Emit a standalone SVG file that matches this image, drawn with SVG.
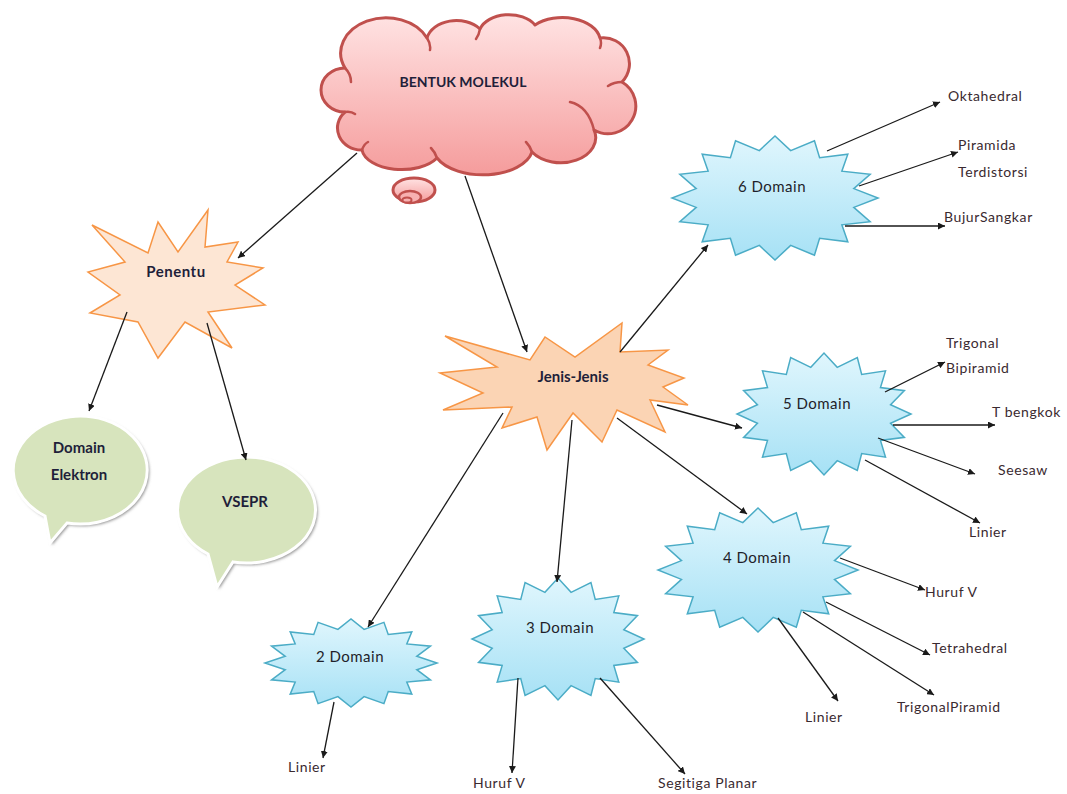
<svg xmlns="http://www.w3.org/2000/svg" xmlns:xlink="http://www.w3.org/1999/xlink" width="1067" height="794" viewBox="0 0 1067 794">
<style>
.conn line{stroke:#1a1a1a;stroke-width:1.3;marker-end:url(#arr)}
.bold{font-family:Lato,"Liberation Sans",sans-serif;font-weight:bold;fill:#1f1f3a;text-anchor:middle}
.dom{font-family:Lato,"Liberation Sans",sans-serif;font-size:15px;fill:#1f1f2a;text-anchor:middle;letter-spacing:0.5px}
.leaf{font-family:Lato,"Liberation Sans",sans-serif;font-size:14px;fill:#3a2a30;letter-spacing:0.6px}
.blue{fill:url(#gBlue);stroke:#4bacc6;stroke-width:1.5;stroke-linejoin:miter}
.orange{stroke:#f79646;stroke-width:1.5;stroke-linejoin:miter}
.bub{fill:#d7e4bd;stroke:#ffffff;stroke-width:3}
.bubsh{fill:#8f8f8f;filter:url(#blur)}
</style>
<defs>
<marker id="arr" viewBox="0 0 10 10" refX="10" refY="5" markerWidth="7" markerHeight="7" orient="auto" markerUnits="userSpaceOnUse">
<path d="M0,0 L10,5 L0,10 Z" fill="#1a1a1a"/>
</marker>
<linearGradient id="gBlue" x1="0" y1="0" x2="0" y2="1">
<stop offset="0" stop-color="#e0f6fd"/>
<stop offset="1" stop-color="#a6e1f5"/>
</linearGradient>
<linearGradient id="gPink" x1="0" y1="0" x2="0" y2="1">
<stop offset="0" stop-color="#ffe3e3"/>
<stop offset="1" stop-color="#f59c9c"/>
</linearGradient>
<filter id="blur" x="-20%" y="-20%" width="140%" height="140%">
<feGaussianBlur stdDeviation="1.6"/>
</filter>
<path id="star16" vector-effect="non-scaling-stroke" d="M100,0 L76.5,15.2 L92.4,38.3 L64.9,43.3 L70.7,70.7 L43.3,64.9 L38.3,92.4 L15.2,76.5 L0,100 L-15.2,76.5 L-38.3,92.4 L-43.3,64.9 L-70.7,70.7 L-64.9,43.3 L-92.4,38.3 L-76.5,15.2 L-100,0 L-76.5,-15.2 L-92.4,-38.3 L-64.9,-43.3 L-70.7,-70.7 L-43.3,-64.9 L-38.3,-92.4 L-15.2,-76.5 L0,-100 L15.2,-76.5 L38.3,-92.4 L43.3,-64.9 L70.7,-70.7 L64.9,-43.3 L92.4,-38.3 L76.5,-15.2 Z"/>
</defs>
<rect width="1067" height="794" fill="#ffffff"/>

<g id="node-bentuk">
<path d="M345,112 A24,22 0 0 1 345,68 A45,35 0 0 1 427,38 A30,22 0 0 1 480,29 A30,20 0 0 1 535,25 A38,24 0 0 1 600,38 A26,26 0 0 1 622,82 A26,26 0 0 1 594,130 A35,25 0 0 1 532,152 A50,28 0 0 1 437,158 A40,22 0 0 1 362,150 A24,22 0 0 1 345,112 Z" fill="url(#gPink)" stroke="#c0504d" stroke-width="3" stroke-linejoin="round"/>
<path d="M345,68 q6,6 6,14 M427,38 q4,6 3,12 M480,29 q-1,6 -4,10 M600,38 q2,5 0,10 M622,82 q-8,0 -14,4 M570,102 q18,4 24,28 M532,152 q-2,-6 -6,-10 M437,158 q-2,-6 -6,-10 M362,150 q2,-6 6,-8 M345,112 q6,-1 10,2" fill="none" stroke="#c0504d" stroke-width="2.5" stroke-linecap="round"/>
<ellipse cx="414" cy="190" rx="21" ry="12" fill="url(#gPink)" stroke="#c0504d" stroke-width="3"/>
<ellipse cx="410" cy="197" rx="11" ry="6" fill="#f7b0b0" stroke="#c0504d" stroke-width="2.5"/>
<ellipse cx="407" cy="200" rx="4.5" ry="2.5" fill="#f7b0b0" stroke="#c0504d" stroke-width="2"/>
<text class="bold" x="463" y="87" font-size="14">BENTUK MOLEKUL</text>
</g>

<g id="node-penentu">
<polygon class="orange" fill="#fde6d4" points="92,225 148,253 158,222 178,252 208,210 205,247 238,242 227,262 263,268 235,285 265,305 208,312 232,348 185,322 158,358 138,322 90,313 120,295 88,272 125,262"/>
<text class="bold" x="176" y="277" font-size="15" letter-spacing="0.5">Penentu</text>
</g>

<g id="node-jenis">
<polygon class="orange" fill="#fbd4b4" points="445,336 530,360 545,337 575,357 622,323 620,352 668,350 648,365 684,378 663,387 688,405 650,400 665,432 617,410 602,442 573,413 547,450 537,417 502,428 512,407 443,410 483,393 440,373 497,367"/>
<text class="bold" x="573" y="382" font-size="15">Jenis-Jenis</text>
</g>

<g id="node-domain-elektron">
<path class="bubsh" d="M69,525 A67,54 0 1 0 47,518 L52,545 Z"/>
<path class="bub" d="M67,523 A67,54 0 1 0 45,516 L50,543 Z"/>
<text class="bold" x="79" y="453" font-size="15">Domain</text>
<text class="bold" x="79" y="480" font-size="15">Elektron</text>
</g>

<g id="node-vsepr">
<path class="bubsh" d="M235,564 A69,53 0 1 0 210,556 L219,589 Z"/>
<path class="bub" d="M233,562 A69,53 0 1 0 208,554 L217,587 Z"/>
<text class="bold" x="245" y="507" font-size="15">VSEPR</text>
</g>

<g id="node-6domain">
<use xlink:href="#star16" href="#star16" class="blue" transform="translate(775,198) scale(1.03,0.62)"/>
<text class="dom" x="772" y="192">6 Domain</text>
</g>
<g id="node-5domain">
<use xlink:href="#star16" href="#star16" class="blue" transform="translate(824,414) scale(0.87,0.61)"/>
<text class="dom" x="817" y="409">5 Domain</text>
</g>
<g id="node-4domain">
<use xlink:href="#star16" href="#star16" class="blue" transform="translate(758,570) scale(1.0,0.62)"/>
<text class="dom" x="757" y="563">4 Domain</text>
</g>
<g id="node-3domain">
<use xlink:href="#star16" href="#star16" class="blue" transform="translate(558,639) scale(0.86,0.61)"/>
<text class="dom" x="560" y="633">3 Domain</text>
</g>
<g id="node-2domain">
<use xlink:href="#star16" href="#star16" class="blue" transform="translate(351,663) scale(0.86,0.44)"/>
<text class="dom" x="350" y="662">2 Domain</text>
</g>

<g id="leaf-labels">
<text class="leaf" x="948" y="101">Oktahedral</text>
<text class="leaf" x="958" y="150">Piramida</text>
<text class="leaf" x="958" y="177">Terdistorsi</text>
<text class="leaf" x="944" y="222">BujurSangkar</text>
<text class="leaf" x="946" y="348">Trigonal</text>
<text class="leaf" x="946" y="373">Bipiramid</text>
<text class="leaf" x="992" y="417">T bengkok</text>
<text class="leaf" x="998" y="475">Seesaw</text>
<text class="leaf" x="969" y="537">Linier</text>
<text class="leaf" x="925" y="597">Huruf V</text>
<text class="leaf" x="932" y="653">Tetrahedral</text>
<text class="leaf" x="897" y="712">TrigonalPiramid</text>
<text class="leaf" x="805" y="722">Linier</text>
<text class="leaf" x="288" y="772">Linier</text>
<text class="leaf" x="473" y="788">Huruf V</text>
<text class="leaf" x="658" y="788">Segitiga Planar</text>
</g>

<g id="connectors" class="conn">
<line x1="357" y1="153" x2="238" y2="258"/>
<line x1="465" y1="176" x2="527" y2="352"/>
<line x1="127" y1="312" x2="89" y2="411"/>
<line x1="207" y1="323" x2="246" y2="460"/>
<line x1="620" y1="352" x2="708" y2="245"/>
<line x1="657" y1="405" x2="742" y2="428"/>
<line x1="617" y1="418" x2="747" y2="514"/>
<line x1="572" y1="420" x2="557" y2="582"/>
<line x1="503" y1="413" x2="368" y2="627"/>
<line x1="827" y1="151" x2="940" y2="102"/>
<line x1="859" y1="186" x2="958" y2="152"/>
<line x1="845" y1="226" x2="945" y2="226"/>
<line x1="885" y1="392" x2="945" y2="362"/>
<line x1="893" y1="425" x2="995" y2="425"/>
<line x1="878" y1="438" x2="975" y2="474"/>
<line x1="865" y1="460" x2="980" y2="523"/>
<line x1="840" y1="558" x2="925" y2="590"/>
<line x1="826" y1="602" x2="930" y2="655"/>
<line x1="803" y1="612" x2="934" y2="695"/>
<line x1="778" y1="618" x2="838" y2="701"/>
<line x1="518" y1="678" x2="512" y2="773"/>
<line x1="600" y1="678" x2="685" y2="774"/>
<line x1="334" y1="702" x2="323" y2="758"/>
</g>
</svg>
